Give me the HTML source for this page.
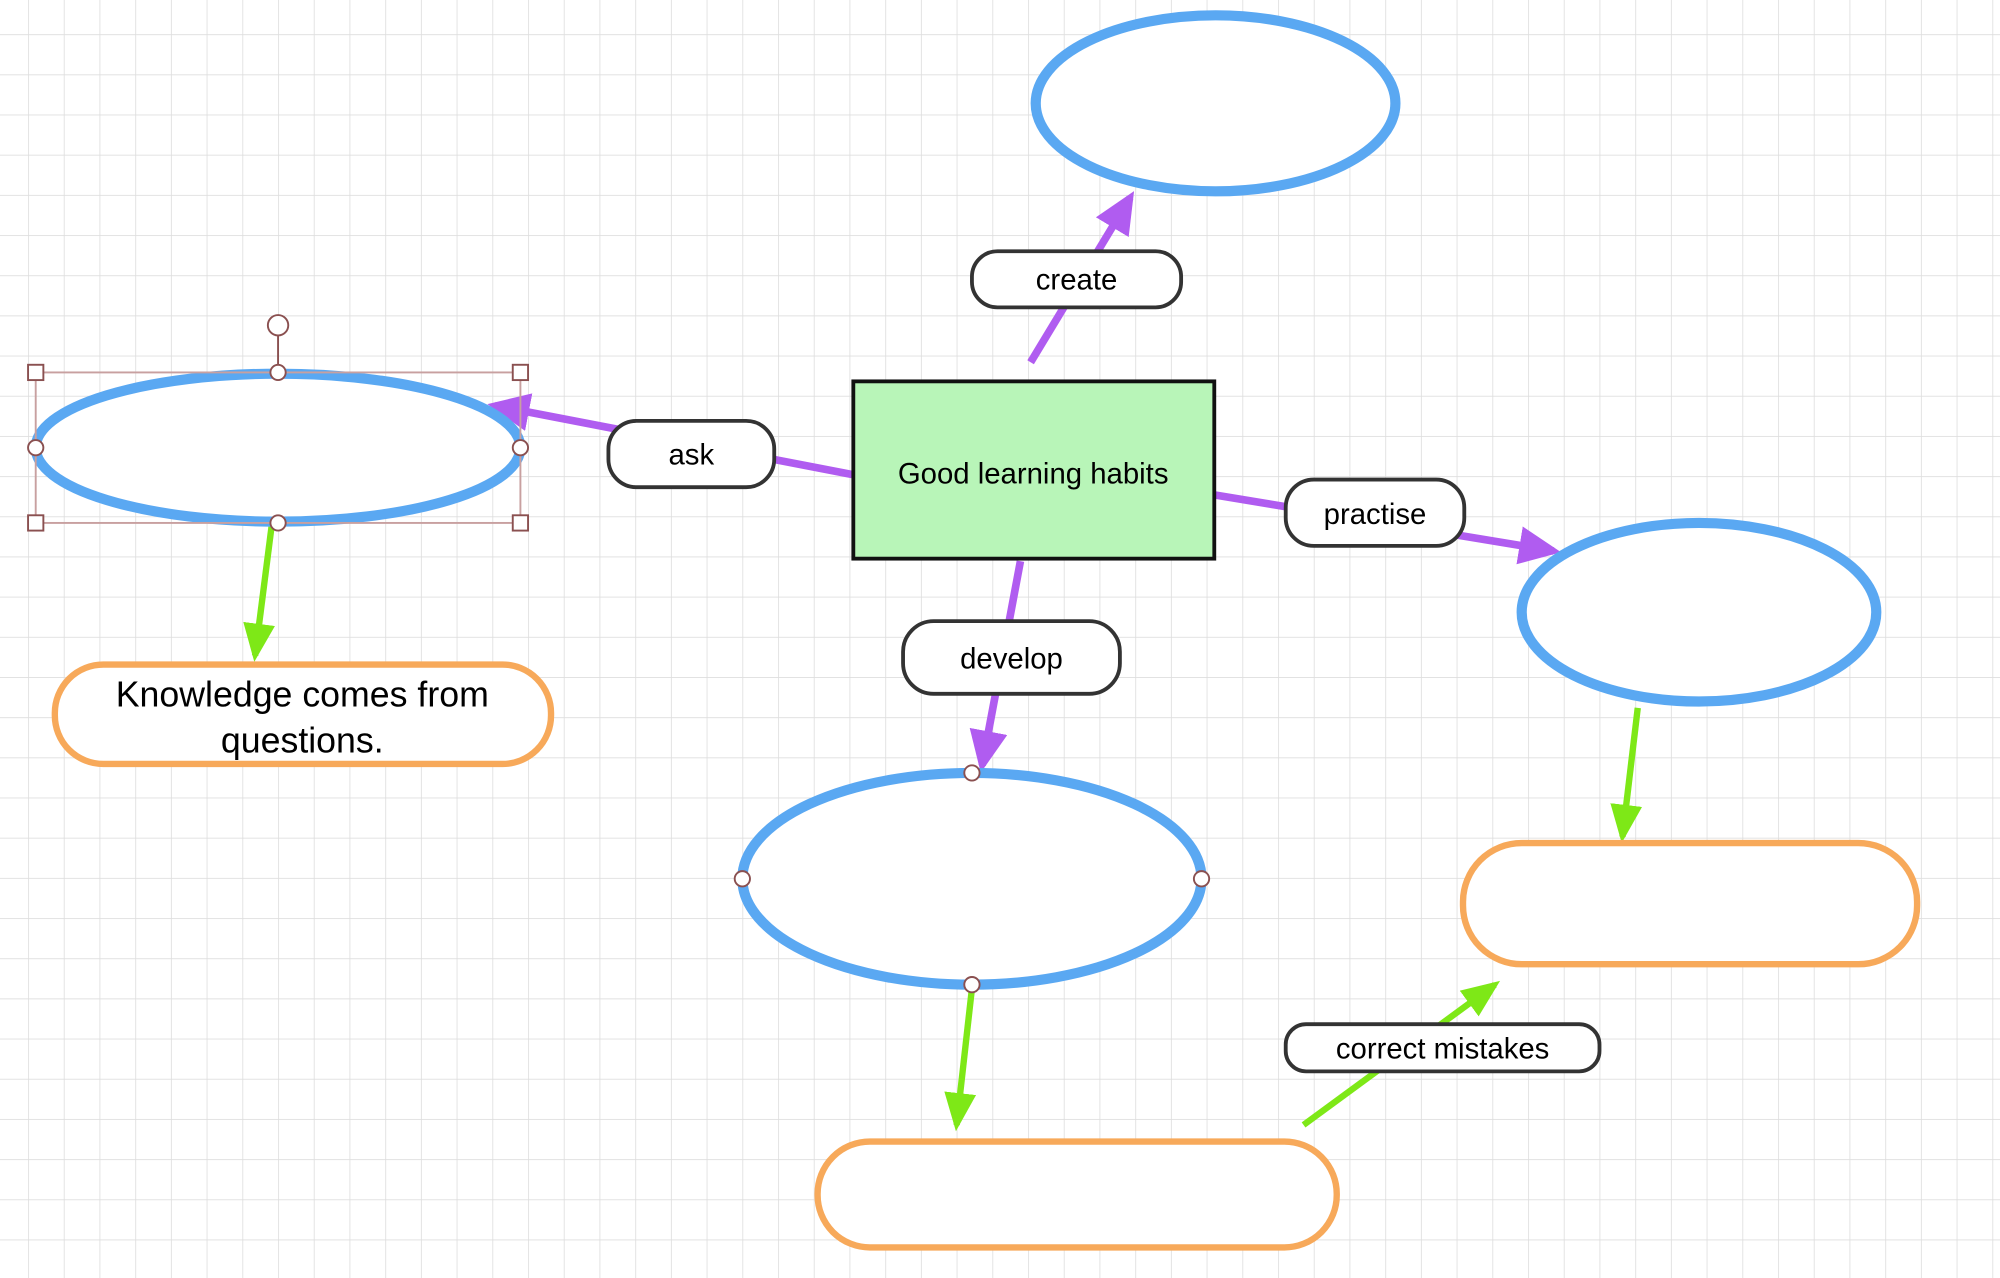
<!DOCTYPE html>
<html><head><meta charset="utf-8"><style>
html,body{margin:0;padding:0;background:#fff;}
svg{display:block;}
text{font-family:"Liberation Sans","DejaVu Sans",sans-serif;}
</style></head><body>
<svg width="2000" height="1278" viewBox="0 0 1568 1002" preserveAspectRatio="none" xmlns="http://www.w3.org/2000/svg">
<defs>
<pattern id="g" x="22" y="26.8" width="28" height="31.5" patternUnits="userSpaceOnUse">
<path d="M0 0V31.5M0 0H28" stroke="#dedede" stroke-width="1.3" fill="none"/>
</pattern>
<marker id="ap" markerWidth="5.5" markerHeight="5" refX="4.5" refY="2.5" orient="auto" markerUnits="strokeWidth"><path d="M0,0L5.5,2.5L0,5z" fill="#b05cf0"/></marker>
<marker id="ag" markerWidth="6" markerHeight="5" refX="5" refY="2.5" orient="auto" markerUnits="strokeWidth"><path d="M0,0L6,2.5L0,5z" fill="#7ee817"/></marker>
</defs>
<rect width="1568" height="1002" fill="url(#g)"/>

<g stroke="#b05cf0" stroke-width="6" fill="none">
<line x1="808" y1="284" x2="886" y2="155" marker-end="url(#ap)"/>
<line x1="668" y1="372" x2="388" y2="318" marker-end="url(#ap)"/>
<line x1="952" y1="388" x2="1218" y2="432" marker-end="url(#ap)"/>
<line x1="800" y1="440" x2="770" y2="600" marker-end="url(#ap)"/>
</g>
<g stroke="#7ee817" stroke-width="5" fill="none">
<line x1="213" y1="412" x2="200" y2="514" marker-end="url(#ag)"/>
<line x1="1284" y1="555" x2="1272" y2="656" marker-end="url(#ag)"/>
<line x1="762" y1="775" x2="750" y2="882" marker-end="url(#ag)"/>
<line x1="1022" y1="882" x2="1172" y2="772" marker-end="url(#ag)"/>
</g>

<g fill="#fff" stroke="#5aa8f2" stroke-width="8">
<ellipse cx="953" cy="81" rx="141" ry="69"/>
<ellipse cx="218" cy="351" rx="190" ry="58"/>
<ellipse cx="1332" cy="480" rx="139" ry="70"/>
<ellipse cx="762" cy="689" rx="180" ry="83"/>
</g>

<g fill="#fff" stroke="#f7a95a" stroke-width="5">
<rect x="43" y="521" width="389" height="78" rx="38"/>
<rect x="1147" y="661" width="356" height="95" rx="46"/>
<rect x="641" y="895" width="407" height="83" rx="41"/>
</g>
<text x="237" y="554" font-size="28" text-anchor="middle" fill="#000">Knowledge comes from</text>
<text x="237" y="590" font-size="28" text-anchor="middle" fill="#000">questions.</text>

<rect x="669" y="299" width="283" height="139" fill="#b8f5b8" stroke="#111" stroke-width="3"/>
<text x="810" y="379" font-size="23" text-anchor="middle" fill="#000">Good learning habits</text>

<g fill="#fff" stroke="#333" stroke-width="3">
<rect x="762" y="197" width="164" height="44" rx="20"/>
<rect x="477" y="330" width="130" height="52" rx="22"/>
<rect x="1008" y="376" width="140" height="52" rx="22"/>
<rect x="708" y="487" width="170" height="57" rx="24"/>
<rect x="1008" y="803" width="246" height="37" rx="16"/>
</g>
<g font-size="23" text-anchor="middle" fill="#000">
<text x="844" y="227">create</text>
<text x="542" y="364">ask</text>
<text x="1078" y="411">practise</text>
<text x="793" y="524">develop</text>
<text x="1131" y="830">correct mistakes</text>
</g>

<g fill="#fff" stroke="#8a5050" stroke-width="1.5">
<rect x="28" y="292" width="380" height="118" fill="none" stroke="#c8a0a0"/>
<line x1="218" y1="262" x2="218" y2="292"/>
<circle cx="218" cy="255" r="8"/>
<rect x="22" y="286" width="12" height="12"/>
<rect x="402" y="286" width="12" height="12"/>
<rect x="22" y="404" width="12" height="12"/>
<rect x="402" y="404" width="12" height="12"/>
<circle cx="218" cy="292" r="6"/>
<circle cx="28" cy="351" r="6"/>
<circle cx="408" cy="351" r="6"/>
<circle cx="218" cy="410" r="6"/>
<circle cx="762" cy="606" r="6"/>
<circle cx="582" cy="689" r="6"/>
<circle cx="942" cy="689" r="6"/>
<circle cx="762" cy="772" r="6"/>
</g>
</svg>
</body></html>
